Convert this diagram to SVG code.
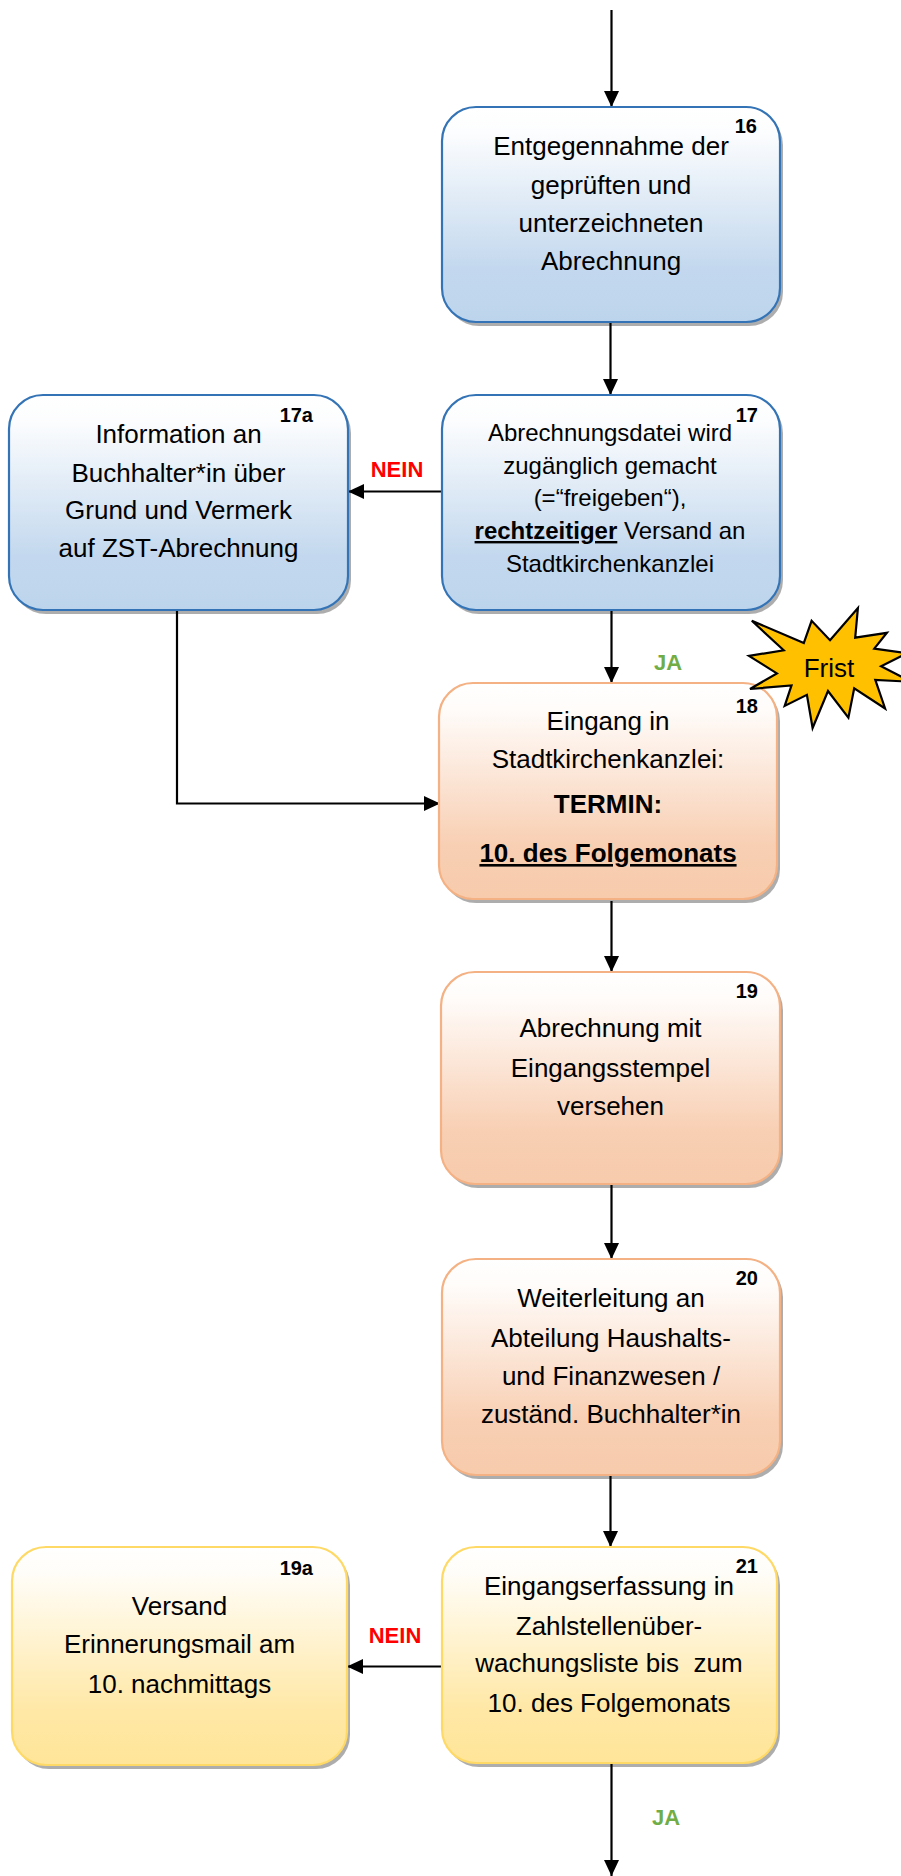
<svg xmlns="http://www.w3.org/2000/svg" width="901" height="1876" viewBox="0 0 901 1876">
<defs>
  <linearGradient id="gBlue" x1="0" y1="0" x2="0" y2="1">
    <stop offset="0" stop-color="#FFFFFF"/>
    <stop offset="0.12" stop-color="#FCFDFE"/>
    <stop offset="0.75" stop-color="#C3D8EE"/>
    <stop offset="1" stop-color="#BDD5EC"/>
  </linearGradient>
  <linearGradient id="gPeach" x1="0" y1="0" x2="0" y2="1">
    <stop offset="0" stop-color="#FFFFFF"/>
    <stop offset="0.12" stop-color="#FFFCFA"/>
    <stop offset="0.75" stop-color="#F8CFB3"/>
    <stop offset="1" stop-color="#F7CBAC"/>
  </linearGradient>
  <linearGradient id="gYellow" x1="0" y1="0" x2="0" y2="1">
    <stop offset="0" stop-color="#FFFFFF"/>
    <stop offset="0.12" stop-color="#FFFDF8"/>
    <stop offset="0.75" stop-color="#FFE8A6"/>
    <stop offset="1" stop-color="#FFE599"/>
  </linearGradient>
  <marker id="arr" markerUnits="userSpaceOnUse" markerWidth="18" markerHeight="16" refX="16" refY="8" orient="auto">
    <path d="M0,0.5 L16,8 L0,15.5 Z" fill="#000"/>
  </marker>
  <style>
    .shadow { fill: #000; fill-opacity: 0.32; }
    .blue { fill: url(#gBlue); stroke: #3474B6; stroke-width: 2.2; }
    .peach { fill: url(#gPeach); stroke: #F4B183; stroke-width: 2.2; }
    .yellow { fill: url(#gYellow); stroke: #FFD966; stroke-width: 2.2; }
    .t { font-family: "Liberation Sans", Arial, sans-serif; font-size: 26px; fill: #000; text-anchor: middle; }
    .ts { font-size: 24px; }
    .num { font-family: "Liberation Sans", Arial, sans-serif; font-size: 20px; font-weight: bold; fill: #000; text-anchor: end; }
    .nein { font-family: "Liberation Sans", Arial, sans-serif; font-size: 22px; font-weight: bold; fill: #FF0000; text-anchor: middle; }
    .ja { font-family: "Liberation Sans", Arial, sans-serif; font-size: 22px; font-weight: bold; fill: #70AD47; text-anchor: middle; }
    .con { fill: none; stroke: #000; stroke-width: 2.2; }
  </style>
</defs>

<g id="connectors">
  <path class="con" d="M611.5,10 V107" marker-end="url(#arr)"/>
  <path class="con" d="M610.5,323 V395" marker-end="url(#arr)"/>
  <path class="con" d="M442,491.5 H348" marker-end="url(#arr)"/>
  <path class="con" d="M611.5,611 V683" marker-end="url(#arr)"/>
  <path class="con" d="M177,611 V803.5 H440" marker-end="url(#arr)"/>
  <path class="con" d="M611.5,901 V972" marker-end="url(#arr)"/>
  <path class="con" d="M611.5,1184 V1259" marker-end="url(#arr)"/>
  <path class="con" d="M610.5,1476 V1547" marker-end="url(#arr)"/>
  <path class="con" d="M442,1666.5 H347" marker-end="url(#arr)"/>
  <path class="con" d="M611.5,1764 V1876" marker-end="url(#arr)"/>
  <text class="nein" x="397" y="477">NEIN</text>
  <text class="ja" x="668" y="670">JA</text>
  <text class="nein" x="395" y="1643">NEIN</text>
  <text class="ja" x="666" y="1825">JA</text>
</g>

<g id="node16">
  <rect class="shadow" x="445" y="111" width="338" height="215" rx="34"/>
  <rect class="blue" x="442" y="107" width="338" height="215" rx="34"/>
  <text class="num" x="757" y="133">16</text>
  <text class="t" x="611" y="155">Entgegennahme der</text>
  <text class="t" x="611" y="194">geprüften und</text>
  <text class="t" x="611" y="232">unterzeichneten</text>
  <text class="t" x="611" y="270">Abrechnung</text>
</g>

<g id="node17">
  <rect class="shadow" x="445" y="399" width="338" height="215" rx="34"/>
  <rect class="blue" x="442" y="395" width="338" height="215" rx="34"/>
  <text class="num" x="758" y="422">17</text>
  <text class="t ts" x="610" y="441">Abrechnungsdatei wird</text>
  <text class="t ts" x="610" y="474">zugänglich gemacht</text>
  <text class="t ts" x="610" y="506">(=“freigeben“),</text>
  <text class="t ts" x="610" y="539"><tspan font-weight="bold" text-decoration="underline">rechtzeitiger</tspan> Versand an</text>
  <text class="t ts" x="610" y="572">Stadtkirchenkanzlei</text>
</g>

<g id="node17a">
  <rect class="shadow" x="12" y="399" width="339" height="215" rx="34"/>
  <rect class="blue" x="9" y="395" width="339" height="215" rx="34"/>
  <text class="num" x="313" y="422">17a</text>
  <text class="t" x="178.5" y="443">Information an</text>
  <text class="t" x="178.5" y="482">Buchhalter*in über</text>
  <text class="t" x="178.5" y="519">Grund und Vermerk</text>
  <text class="t" x="178.5" y="557">auf ZST-Abrechnung</text>
</g>

<g id="node18">
  <rect class="shadow" x="442" y="687" width="338" height="216" rx="34"/>
  <rect class="peach" x="439" y="683" width="338" height="216" rx="34"/>
  <text class="num" x="758" y="713">18</text>
  <text class="t" x="608" y="730">Eingang in</text>
  <text class="t" x="608" y="768">Stadtkirchenkanzlei:</text>
  <text class="t" x="608" y="813" font-weight="bold" font-size="25">TERMIN:</text>
  <text class="t" x="608" y="862" font-weight="bold" font-size="27" text-decoration="underline">10. des Folgemonats</text>
</g>

<g id="frist">
  <path d="M830,640.2 L857.9,608 L855.2,637.6 L886.9,632.8 L874.3,648.6 L907.2,653.2 L881.1,666.2 L911,681.8 L875.3,679.9 L885.1,708.5 L854.2,688.3 L848.4,717.7 L828,691 L812.6,728 L806.9,694.8 L784.7,705.9 L791.5,685.4 L750,689 L776.9,673.4 L749,655.9 L783.7,650.3 L751.8,620.8 L803.8,643.1 L811.6,620.8 Z" fill="#FFC000" stroke="#000" stroke-width="2.2" stroke-linejoin="miter"/>
  <text class="t" x="829" y="677" font-size="24">Frist</text>
</g>

<g id="node19">
  <rect class="shadow" x="444" y="976" width="339" height="212" rx="34"/>
  <rect class="peach" x="441" y="972" width="339" height="212" rx="34"/>
  <text class="num" x="758" y="998">19</text>
  <text class="t" x="610.5" y="1037">Abrechnung mit</text>
  <text class="t" x="610.5" y="1077">Eingangsstempel</text>
  <text class="t" x="610.5" y="1115">versehen</text>
</g>

<g id="node20">
  <rect class="shadow" x="445" y="1263" width="338" height="216" rx="34"/>
  <rect class="peach" x="442" y="1259" width="338" height="216" rx="34"/>
  <text class="num" x="758" y="1285">20</text>
  <text class="t" x="611" y="1307">Weiterleitung an</text>
  <text class="t" x="611" y="1347">Abteilung Haushalts-</text>
  <text class="t" x="611" y="1385">und Finanzwesen /</text>
  <text class="t" x="611" y="1423">zuständ. Buchhalter*in</text>
</g>

<g id="node21">
  <rect class="shadow" x="445" y="1551" width="335" height="216" rx="34"/>
  <rect class="yellow" x="442" y="1547" width="335" height="216" rx="34"/>
  <text class="num" x="758" y="1573">21</text>
  <text class="t" x="609" y="1595">Eingangserfassung in</text>
  <text class="t" x="609" y="1635">Zahlstellenüber-</text>
  <text class="t" x="609" y="1672" xml:space="preserve">wachungsliste bis  zum</text>
  <text class="t" x="609" y="1712">10. des Folgemonats</text>
</g>

<g id="node19a">
  <rect class="shadow" x="15" y="1551" width="335" height="218" rx="34"/>
  <rect class="yellow" x="12" y="1547" width="335" height="218" rx="34"/>
  <text class="num" x="313" y="1575">19a</text>
  <text class="t" x="179.5" y="1615">Versand</text>
  <text class="t" x="179.5" y="1653">Erinnerungsmail am</text>
  <text class="t" x="179.5" y="1693">10. nachmittags</text>
</g>
</svg>
